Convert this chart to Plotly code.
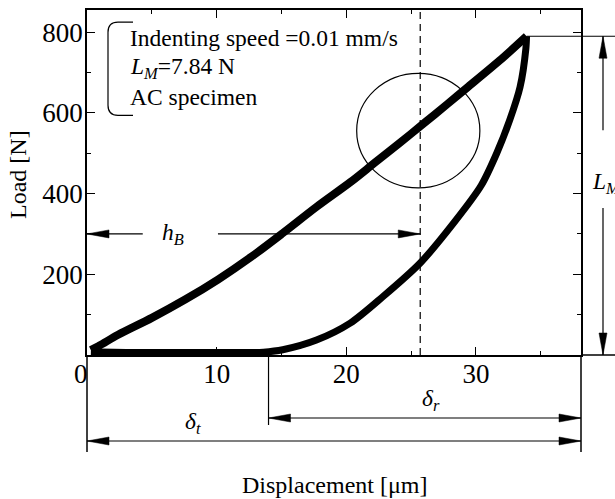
import plotly.graph_objects as go

# ---------------- data ----------------
loading_disp = [0.3, 1.0, 2.4, 5.0, 7.6, 10.1, 12.7, 15.1, 17.7, 20.3, 22.1, 24.1, 25.9, 27.8, 29.3, 31.8, 33.9]
loading_load = [12, 24, 50, 92, 138, 187, 244, 302, 367, 428, 474, 525, 572, 622, 662, 729, 790]

unloading_disp = [33.9, 33.85, 33.4, 32.6, 31.6, 30.4, 28.3, 25.7, 22.8, 20.3, 17.7, 15.1, 13.6, 12.0, 8.0, 4.0, 0.3]
unloading_load = [790, 760, 664, 582, 500, 420, 328, 228, 144, 79, 37, 13, 7, 6, 6, 6, 8]

x_tick_vals = [10, 20, 30]
x_minor_vals = [5, 15, 25, 35]
y_tick_vals = [200, 400, 600, 800]
y_minor_vals = [100, 300, 500, 700]

peak_disp, peak_load = 33.9, 790      # L_M point
residual_disp = 14.0                  # delta_r starts here
hb_disp = 25.7                        # dashed line / h_B end
hb_load = 300

info_lines = ["Indenting speed =0.01 mm/s", "<i>L<sub>M</sub></i>=7.84 N", "AC specimen"]

# ---------------- geometry ----------------
W, H = 615, 499
ML, MR, MT, MB = 87, 34, 10, 144
PW, PH = W - ML - MR, H - MT - MB
X_MAX, Y_MAX = 38.1, 855
FONT = "Liberation Serif, Times New Roman, serif"


def xp(x):  # data x -> paper
    return x / X_MAX


def yp(y):  # data y -> paper
    return y / Y_MAX


def pxx(px):  # pixel offset from plot left -> paper
    return px / PW


def pxy(py):  # pixel offset below plot bottom -> paper
    return -py / PH


fig = go.Figure()
fig.add_trace(go.Scatter(x=loading_disp, y=loading_load, mode="lines",
                         line=dict(color="black", width=8, shape="spline", smoothing=0.8),
                         hoverinfo="skip"))
fig.add_trace(go.Scatter(x=unloading_disp, y=unloading_load, mode="lines",
                         line=dict(color="black", width=7, shape="spline", smoothing=0.8),
                         hoverinfo="skip"))

shapes = []
LW = 1.2


def line(x0, y0, x1, y1, width=LW, ref="paper"):
    shapes.append(dict(type="line", xref=ref, yref=ref, x0=x0, y0=y0, x1=x1, y1=y1,
                       line=dict(color="black", width=width)))


HEAD_L, HEAD_HW = 22, 4


def head(x, y, direction):
    # x, y in paper coordinates (tip)
    lx, ly = HEAD_L / PW, HEAD_L / PH
    wx, wy = HEAD_HW / PW, HEAD_HW / PH
    if direction == "right":
        pts = [(x, y), (x - lx, y + wy), (x - lx, y - wy)]
    elif direction == "left":
        pts = [(x, y), (x + lx, y + wy), (x + lx, y - wy)]
    elif direction == "up":
        pts = [(x, y), (x - wx, y - ly), (x + wx, y - ly)]
    else:
        pts = [(x, y), (x - wx, y + ly), (x + wx, y + ly)]
    path = "M {} {} L {} {} L {} {} Z".format(*[v for p in pts for v in p])
    shapes.append(dict(type="path", xref="paper", yref="paper", path=path,
                       fillcolor="black", line=dict(color="black", width=0.5)))


# dashed vertical line
shapes.append(dict(type="line", xref="x", yref="y", x0=hb_disp, x1=hb_disp, y0=0, y1=Y_MAX,
                   line=dict(color="black", width=1.2, dash="7px,5px")))

# circle
shapes.append(dict(type="circle", xref="x", yref="y", x0=20.8, x1=30.3, y0=414, y1=698,
                   line=dict(color="black", width=1.2)))

# bracket around info text
bracket = "M 3.55 825 L 2.39 825 Q 1.62 825 1.62 800 L 1.62 619 Q 1.62 594 2.39 594 L 3.55 594"
shapes.append(dict(type="path", xref="x", yref="y", path=bracket,
                   line=dict(color="black", width=1.2)))

# frame / axis extensions
ext_right = pxx(615 - ML)
line(1, 0, ext_right, 0, width=1.5)
line(xp(peak_disp), yp(peak_load), ext_right, yp(peak_load), width=1.2)
line(0, 0, 0, pxy(97), width=1.5)
line(1, 0, 1, pxy(97), width=1.5)

# delta_r
line(xp(residual_disp), 0, xp(residual_disp), pxy(70), width=1.2)
y_dr = pxy(63)
line(xp(residual_disp), y_dr, 1, y_dr)
head(xp(residual_disp), y_dr, "left")
head(1, y_dr, "right")

# delta_t
y_dt = pxy(86)
line(0, y_dt, 1, y_dt)
head(0, y_dt, "left")
head(1, y_dt, "right")

# L_M arrow
x_lm = pxx(603 - ML)
line(x_lm, yp(peak_load), x_lm, yp(peak_load) - 94 / PH)
line(x_lm, 0, x_lm, 147 / PH)
head(x_lm, yp(peak_load), "up")
head(x_lm, 0, "down")

# h_B arrow
line(0, yp(hb_load), xp(4.3), yp(hb_load))
line(xp(10.1), yp(hb_load), xp(hb_disp), yp(hb_load))
head(0, yp(hb_load), "left")
head(xp(hb_disp), yp(hb_load), "right")

ann = []
TF = dict(family=FONT, size=23.5, color="black")
TT = dict(family=FONT, size=24, color="black")
for i, t in enumerate(info_lines):
    ann.append(dict(x=3.16, y=[785, 711, 639][i], xref="x", yref="y", text=t,
                    showarrow=False, xanchor="left", yanchor="middle", font=TF))
ann.append(dict(x=6.6, y=hb_load, xref="x", yref="y", text="<i>h<sub>B</sub></i>",
                showarrow=False, xanchor="center", yanchor="middle", font=TF))
ann.append(dict(x=26.5, y=pxy(45), xref="x", yref="paper", text="<i>δ<sub>r</sub></i>",
                showarrow=False, xanchor="center", yanchor="middle", font=TF))
ann.append(dict(x=8.2, y=pxy(68), xref="x", yref="paper", text="<i>δ<sub>t</sub></i>",
                showarrow=False, xanchor="center", yanchor="middle", font=TF))
ann.append(dict(x=pxx(590 - ML), y=yp(peak_load) - 147 / PH, xref="paper", yref="paper",
                text="<i>L<sub>M</sub></i>", showarrow=False, xanchor="left", yanchor="middle", font=TF))
ann.append(dict(x=pxx(90 - ML), y=pxy(19), xref="paper", yref="paper", text="0",
                showarrow=False, xanchor="right", yanchor="middle",
                font=dict(family=FONT, size=27, color="black")))
ann.append(dict(x=0.5, y=pxy(130), xref="paper", yref="paper", text="Displacement [μm]",
                showarrow=False, xanchor="center", yanchor="middle", font=TT))
ann.append(dict(x=pxx(18 - ML), y=(355 - 175) / PH, xref="paper", yref="paper", text="Load [N]",
                textangle=-90, showarrow=False, xanchor="center", yanchor="middle", font=TT))

axis_common = dict(showline=True, linecolor="black", linewidth=1.5, mirror="ticks",
                   ticks="inside", ticklen=8, tickwidth=1.2, tickcolor="black",
                   showgrid=False, zeroline=False, automargin=False,
                   tickfont=dict(family=FONT, size=27, color="black"))

fig.update_layout(
    width=W, height=H, margin=dict(l=ML, r=MR, t=MT, b=MB, autoexpand=False),
    plot_bgcolor="white", paper_bgcolor="white", showlegend=False,
    xaxis=dict(range=[0, X_MAX], tickvals=x_tick_vals, ticklabelstandoff=-6,
               minor=dict(tickvals=x_minor_vals, ticks="inside", ticklen=4, tickcolor="black"),
               **axis_common),
    yaxis=dict(range=[0, Y_MAX], tickvals=y_tick_vals, ticklabelstandoff=-3,
               minor=dict(tickvals=y_minor_vals, ticks="inside", ticklen=4, tickcolor="black"),
               **axis_common),
    shapes=shapes, annotations=ann,
)

fig.write_html("out.html", config={"displayModeBar": False},
               post_script="document.body.style.margin='0px';document.body.style.overflow='hidden';")
